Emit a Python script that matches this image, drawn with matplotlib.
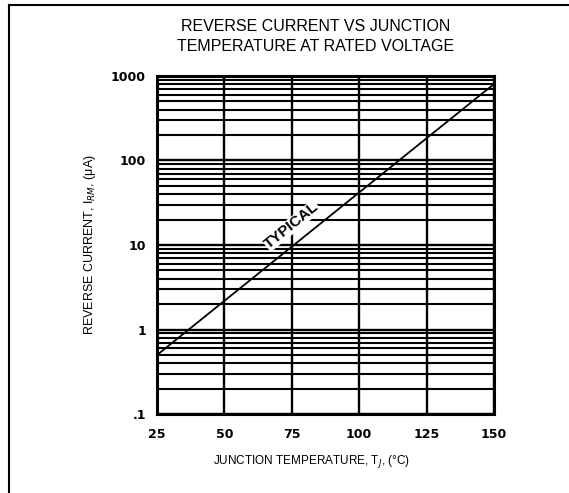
import matplotlib
matplotlib.use('Agg')
import matplotlib.pyplot as plt
from matplotlib.lines import Line2D
from matplotlib.ticker import FixedLocator, LogLocator, NullFormatter

plt.rcParams['font.family'] = ['Liberation Sans', 'DejaVu Sans']

# values
temp_c = [25, 150]
current_ua = [0.5, 800]

x_ticks = [25, 50, 75, 100, 125, 150]
y_ticks = [0.1, 1, 10, 100, 1000]
y_tick_labels = ['.1', '1', '10', '100', '1000']

fig = plt.figure(figsize=(5.69, 4.93), dpi=100)
ax = fig.add_axes([0.276, 0.160, 0.592, 0.686])

ax.set_yscale('log')
ax.set_xlim(25, 150)
ax.set_ylim(0.1, 1000)

ax.plot(temp_c, current_ua, color='black', lw=1.3, zorder=3)

ax.xaxis.set_major_locator(FixedLocator(x_ticks))
ax.yaxis.set_major_locator(FixedLocator(y_ticks))
ax.yaxis.set_minor_locator(LogLocator(base=10, subs=range(2, 10)))
ax.yaxis.set_minor_formatter(NullFormatter())
tick_font = dict(family='DejaVu Sans', fontsize=9, fontweight='bold')
ax.set_xticklabels([str(t) for t in x_ticks], **tick_font)
ax.set_yticklabels(y_tick_labels, **tick_font)
ax.tick_params(axis='x', which='both', length=0, pad=10)
ax.tick_params(axis='y', which='both', length=0, pad=8)

ax.grid(True, which='major', axis='both', color='black', lw=1.7)
ax.grid(True, which='minor', axis='y', color='black', lw=1.5)
for s in ax.spines.values():
    s.set_linewidth(2.2)

ax.text(75, 17, 'TYPICAL', rotation=39, ha='center', va='center',
        fontsize=11, fontweight='bold', zorder=4,
        bbox=dict(facecolor='white', edgecolor='none', pad=0.3))

fig.text(0.555, 0.926, 'REVERSE CURRENT VS JUNCTION\nTEMPERATURE AT RATED VOLTAGE',
         ha='center', va='center', fontsize=11.5, linespacing=1.45)
ax.set_xlabel('JUNCTION TEMPERATURE, T$_J$, (°C)', fontsize=8.5)
ax.xaxis.set_label_coords((311 - 157) / 337, -(453 - 414) / 338)
ax.set_ylabel('REVERSE CURRENT, I$_{RM}$, (μA)', fontsize=9)
ax.yaxis.set_label_coords(-(157 - 98) / 337, 0.5)

# page frame (top and left edges)
fig.add_artist(Line2D([9 / 569, 9 / 569], [0, 1 - 5 / 493], color='black', lw=1.5))
fig.add_artist(Line2D([9 / 569, 1], [1 - 5 / 493, 1 - 5 / 493], color='black', lw=1.5))

fig.savefig('out.png', dpi=100)
